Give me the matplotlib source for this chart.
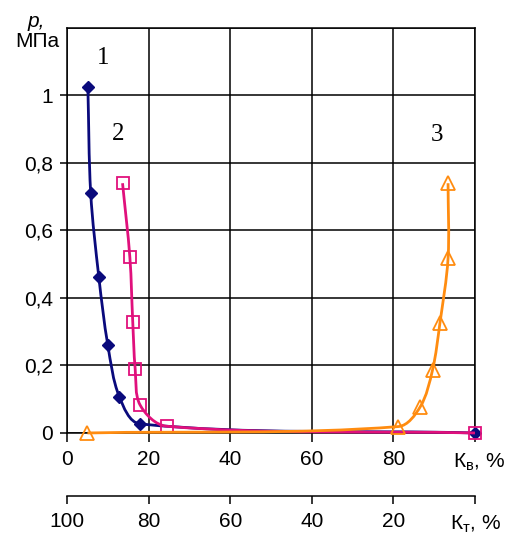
import numpy as np
import matplotlib.pyplot as plt
from matplotlib.path import Path
from matplotlib.patches import PathPatch

# Кривые p(Кв): 1 - ромбы, 2 - квадраты, 3 - треугольники
kv1 = [5.1, 5.8, 7.8, 10.0, 12.8, 17.9, 100.0]
p1 = [1.025, 0.71, 0.461, 0.26, 0.108, 0.027, 0.0]

kv2 = [13.6, 15.4, 16.1, 16.7, 17.9, 24.4, 100.0]
p2 = [0.74, 0.52, 0.33, 0.19, 0.083, 0.02, 0.0]

kv3 = [5.0, 81.2, 86.6, 89.6, 91.4, 93.4, 93.4]
p3 = [0.0, 0.019, 0.078, 0.187, 0.325, 0.518, 0.74]

y_ticks = [0, 0.2, 0.4, 0.6, 0.8, 1.0]
y_labels = ['0', '0,2', '0,4', '0,6', '0,8', '1']
x_ticks = [0, 20, 40, 60, 80, 100]
x_labels = ['0', '20', '40', '60', '80', '']
kt_ticks = [100, 80, 60, 40, 20, 0]
kt_labels = ['100', '80', '60', '40', '20', '']

XMAX, YMAX = 100, 1.2


def smooth_path(xs, ys, sx, sy):
    # сглаженная линия кривыми Безье (как в Excel), расчет в пикселях
    P = np.column_stack([np.array(xs) * sx, np.array(ys) * sy])
    n = len(P)
    verts = [P[0]]
    codes = [Path.MOVETO]
    d = np.linalg.norm(np.diff(P, axis=0), axis=1)
    for i in range(n - 1):
        a = P[i - 1] if i > 0 else P[i]
        b = P[i + 2] if i + 2 < n else P[i + 1]
        dl = d[i - 1] if i > 0 else 0.0
        dr = d[i + 1] if i + 2 < n else 0.0
        t0 = (P[i + 1] - a) * d[i] / (dl + d[i]) / 3
        t1 = (b - P[i]) * d[i] / (d[i] + dr) / 3
        verts += [P[i] + t0, P[i + 1] - t1, P[i + 1]]
        codes += [Path.CURVE4] * 3
    V = np.array(verts)
    V[:, 0] /= sx
    V[:, 1] /= sy
    return Path(V, codes)


plt.rcParams['font.family'] = ['Liberation Sans', 'DejaVu Sans']
fig = plt.figure(figsize=(5.08, 5.35), dpi=100)
ax = fig.add_axes([0.132, 0.1907, 0.803, 0.757])
ax.set_xlim(0, XMAX)
ax.set_ylim(0, YMAX)

# масштаб в пикселях на единицу данных
sx = 408 / XMAX
sy = 405 / YMAX

series = [
    (kv1, p1, '#0a0a7c', 'D', dict(markersize=6, markerfacecolor='#0a0a7c')),
    (kv2, p2, '#e0107c', 's', dict(markersize=8.5, markerfacecolor='none', markeredgewidth=1.3)),
    (kv3, p3, '#ff8c10', '^', dict(markersize=10, markerfacecolor='none', markeredgewidth=1.3)),
]
for z, (xs, ys, col, mk, kw) in enumerate(series):
    patch = PathPatch(smooth_path(xs, ys, sx, sy), facecolor='none', edgecolor=col,
                      lw=2.0, zorder=3 + z, clip_on=False)
    ax.add_patch(patch)
    ax.plot(xs, ys, linestyle='none', marker=mk, color=col, markeredgecolor=col,
            zorder=3.5 + z, clip_on=False, **kw)

ax.set_xticks(x_ticks)
ax.set_xticklabels(x_labels)
ax.set_yticks(y_ticks + [1.2])
ax.set_yticklabels(y_labels + [''])
ax.grid(True, color='black', lw=1.1)
for s in ax.spines.values():
    s.set_linewidth(1.1)
ax.tick_params(axis='x', direction='out', length=6.5, width=1.1, labelsize=15, pad=6)
ax.tick_params(axis='y', direction='out', length=5, width=1.1, labelsize=15, pad=5)
ax.yaxis.get_major_ticks()[-1].tick1line.set_visible(False)

ax.text(0.946, -0.084, 'К$_\\mathregular{в}$, %', transform=ax.transAxes,
        fontsize=15, ha='left', va='baseline')

sec = ax.secondary_xaxis(-0.156, functions=(lambda x: 100 - x, lambda x: 100 - x))
sec.set_xticks(kt_ticks)
sec.set_xticklabels(kt_labels)
sec.spines['bottom'].set_linewidth(1.1)
sec.tick_params(direction='out', length=5.5, width=1.1, labelsize=15, pad=6)
ax.text(0.939, -0.237, 'К$_\\mathregular{т}$, %', transform=ax.transAxes,
        fontsize=15, ha='left', va='baseline')

fig.text(0.089, 0.977, 'p,', fontsize=15, style='italic', ha='right', va='top')
fig.text(0.116, 0.94, 'МПа', fontsize=15, ha='right', va='top')

for lab, x, y in [('1', 8.8, 1.11), ('2', 12.5, 0.886), ('3', 90.7, 0.884)]:
    ax.text(x, y, lab, fontsize=18, family='Liberation Serif', ha='center', va='center')

fig.savefig('out.png', dpi=100)
